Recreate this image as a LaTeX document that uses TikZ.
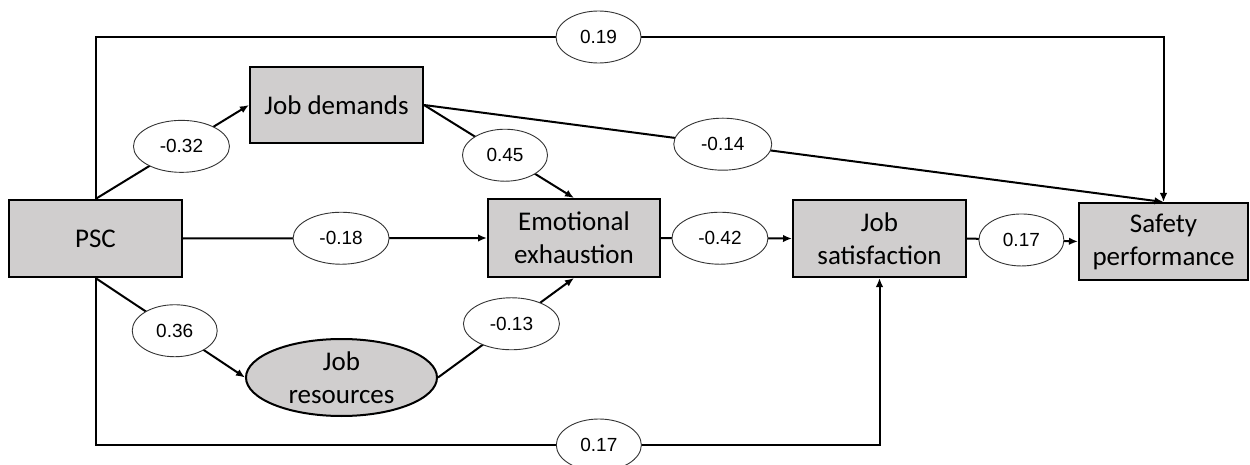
\documentclass[tikz,border=0pt]{standalone}
\usepackage{fontspec}
\setmainfont{Carlito}
\newfontfamily\labfont{Liberation Sans}
\usetikzlibrary{shapes.geometric,arrows.meta}
\definecolor{boxgray}{RGB}{208,206,206}
\begin{document}
\begin{tikzpicture}[x=1pt,y=-1pt,
  var/.style={draw=black,line width=2pt,fill=boxgray,rectangle,minimum width=173pt,minimum height=77pt,inner sep=0pt,align=center,font=\fontsize{27}{33}\selectfont},
  lat/.style={draw=black,line width=2pt,fill=boxgray,ellipse,minimum width=191pt,minimum height=77pt,inner sep=0pt,align=center,font=\fontsize{27}{33}\selectfont},
  lab/.style={draw=black!80,line width=0.9pt,fill=white,ellipse,minimum width=85pt,minimum height=52pt,inner sep=0pt,font=\labfont\fontsize{19}{21}\selectfont},
  nlab/.style={lab,minimum width=96pt},
  arr/.style={line width=2pt,-{Latex[length=9pt,width=7.5pt]}}]
\useasboundingbox (0,0) rectangle (1250,465);
\node[var] (PSC) at (95.5,238.5) {PSC};
\node[var,minimum height=76pt] (JD) at (336.5,105) {Job demands};
\node[var,minimum width=172pt,minimum height=78pt] (EE) at (574,238) {Emotional\\exhaustion};
\node[var] (JS) at (879.5,238.5) {Job\\satisfaction};
\node[var,minimum width=169pt,minimum height=77pt] (SP) at (1163.5,241.5) {Safety\\performance};
\node[lat] (JR) at (341.5,377.5) {Job\\resources};
\coordinate (top) at (0,37);
\coordinate (bot) at (0,445);
\draw[arr] (PSC.north) -- node[nlab,pos=0.56]{-0.32} (JD.west);
\draw[arr] (PSC.east) -- node[nlab,pos=0.52]{-0.18} (EE.west);
\draw[arr] (PSC.south) -- node[lab,pos=0.53]{0.36} (JR.west);
\draw[arr] (JR.east) -- node[nlab,pos=0.54]{-0.13} (EE.south);
\draw[arr] (JD.east) -- node[lab,pos=0.54]{0.45} (EE.north);
\draw[arr] (JD.east) -- node[nlab,minimum width=98pt,pos=0.404]{-0.14} (SP.north);
\draw[arr] (EE.east) -- node[nlab,pos=0.45]{-0.42} (JS.west);
\draw[arr] (JS.east) -- node[lab,pos=0.49]{0.17} (SP.west);
\draw[arr] (PSC.north) -- (PSC.north |- top) -- node[lab,pos=0.471]{0.19} (SP.north |- top) -- (SP.north);
\draw[arr] (PSC.south) -- (PSC.south |- bot) -- node[lab,pos=0.642]{0.17} (JS.south |- bot) -- (JS.south);
\end{tikzpicture}
\end{document}
